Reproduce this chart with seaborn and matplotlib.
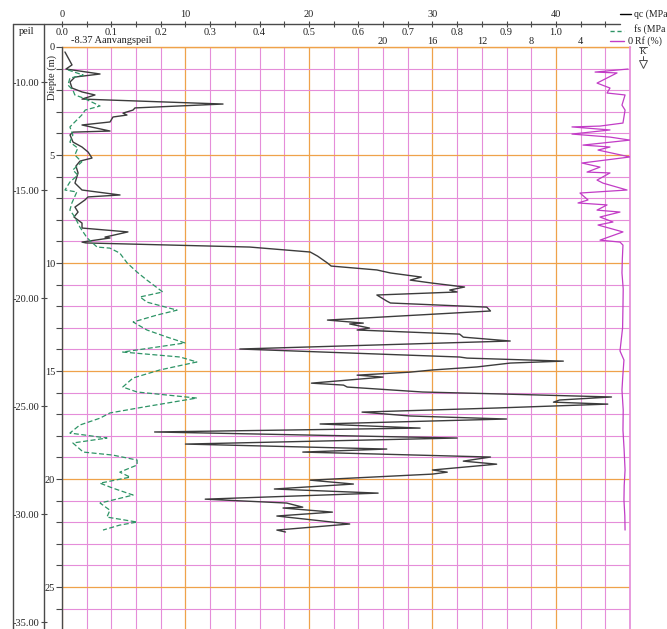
import numpy as np
import pandas as pd
import matplotlib
matplotlib.use("Agg")
import matplotlib.pyplot as plt
from matplotlib.lines import Line2D
import seaborn as sns

# Cone resistance qc (MPa) against depth below start level (m)
qc_depth = [0.23, 0.83, 1.02, 1.25, 1.39, 1.62, 1.90, 2.08, 2.22, 2.41,
            2.64, 2.82, 2.92, 3.06, 3.15, 3.24, 3.47, 3.61, 3.89, 3.94,
            4.07, 4.40, 4.63, 4.86, 5.14, 5.28, 5.51, 5.83, 6.30, 6.62,
            6.85, 6.94, 7.08, 7.41, 7.64, 7.87, 8.15, 8.38, 8.56, 8.80,
            8.84, 9.03, 9.07, 9.26, 9.49, 9.68, 10.00, 10.14, 10.32, 10.46,
            10.65, 10.79, 10.93, 11.11, 11.25, 11.34, 11.48, 11.76, 11.85, 12.04,
            12.22, 12.64, 12.78, 12.82, 13.01, 13.10, 13.29, 13.43, 13.61, 13.98,
            14.35, 14.40, 14.54, 14.63, 14.81, 14.95, 15.05, 15.19, 15.28, 15.56,
            15.65, 15.74, 15.97, 16.06, 16.20, 16.34, 16.44, 16.53, 16.71, 16.90,
            17.08, 17.22, 17.45, 17.64, 17.82, 18.10, 18.38, 18.61, 18.75, 18.98,
            19.17, 19.31, 19.58, 19.68, 19.77, 20.05, 20.23, 20.46, 20.65, 20.93,
            21.11, 21.30, 21.34, 21.53, 21.71, 22.08, 22.36, 22.45]
qc_value = [0.24, 0.81, 0.32, 3.08, 1.05, 0.65, 0.81, 1.62, 2.67, 1.62,
            13.04, 5.91, 5.75, 4.94, 5.26, 4.13, 3.89, 1.62, 3.89, 0.89,
            0.65, 0.89, 1.62, 2.11, 2.43, 1.46, 1.13, 1.30, 1.05, 1.62,
            4.70, 2.11, 1.86, 1.05, 1.30, 0.97, 1.62, 1.62, 5.34, 3.48,
            3.89, 1.62, 1.94, 15.20, 20.10, 20.70, 21.50, 21.80, 25.50, 26.60,
            29.10, 28.20, 30.00, 32.60, 31.40, 32.00, 25.50, 26.30, 26.60, 34.40,
            34.70, 21.50, 24.40, 23.30, 24.90, 23.90, 32.20, 32.50, 36.30, 14.40,
            32.20, 32.80, 40.60, 36.30, 33.60, 30.00, 28.20, 23.90, 26.00, 20.20,
            22.80, 23.10, 29.20, 35.50, 44.50, 40.30, 39.80, 44.20, 35.20, 24.30,
            28.20, 36.00, 20.90, 29.00, 7.50, 32.00, 10.00, 26.30, 19.50, 34.70,
            32.50, 35.20, 30.00, 31.20, 30.00, 20.10, 23.60, 17.20, 25.60, 11.60,
            18.20, 19.50, 17.90, 21.90, 17.40, 23.30, 17.40, 18.10]

# Sleeve friction fs (MPa)
fs_depth = [1.06, 1.30, 1.44, 1.76, 1.99, 2.22, 2.36, 2.73, 2.92, 3.15,
            3.47, 3.70, 4.07, 4.40, 4.68, 5.00, 5.32, 5.69, 5.93, 6.25,
            6.62, 6.71, 7.22, 7.55, 7.87, 8.33, 8.84, 9.26, 9.31, 9.54,
            10.00, 10.42, 10.79, 11.34, 11.57, 11.81, 12.18, 12.41, 12.73, 13.10,
            13.43, 13.70, 14.12, 14.35, 14.58, 14.95, 15.32, 15.74, 15.97, 16.25,
            16.67, 16.94, 17.18, 17.50, 17.87, 18.10, 18.33, 18.75, 18.89, 19.12,
            19.35, 19.68, 19.91, 20.19, 20.42, 20.74, 20.97, 21.11, 21.44, 21.76,
            21.99, 22.13, 22.36]
fs_value = [0.012, 0.043, 0.016, 0.012, 0.022, 0.026, 0.043, 0.077, 0.047, 0.040,
            0.026, 0.016, 0.022, 0.016, 0.032, 0.026, 0.040, 0.022, 0.032, 0.016,
            0.006, 0.030, 0.020, 0.016, 0.026, 0.036, 0.051, 0.071, 0.097, 0.117,
            0.132, 0.152, 0.172, 0.204, 0.158, 0.172, 0.233, 0.192, 0.144, 0.172,
            0.213, 0.249, 0.123, 0.239, 0.273, 0.198, 0.144, 0.123, 0.152, 0.273,
            0.164, 0.097, 0.077, 0.036, 0.016, 0.091, 0.022, 0.043, 0.103, 0.152,
            0.152, 0.117, 0.138, 0.077, 0.103, 0.144, 0.103, 0.077, 0.097, 0.091,
            0.152, 0.117, 0.083]

# Friction ratio Rf (%)
rf_depth = [1.02, 1.16, 1.20, 1.67, 1.90, 2.13, 2.22, 2.69, 2.92, 3.52,
            3.66, 3.70, 3.84, 4.03, 4.17, 4.31, 4.54, 4.63, 4.77, 5.09,
            5.37, 5.56, 5.79, 5.83, 6.16, 6.30, 6.62, 6.76, 7.08, 7.22,
            7.31, 7.55, 7.64, 7.87, 8.10, 8.24, 8.56, 8.94, 9.03, 9.17,
            9.80, 10.46, 11.20, 12.04, 13.00, 14.07, 14.49, 15.20, 15.88, 16.80,
            17.73, 18.60, 19.58, 20.30, 20.97, 21.70, 22.36]
rf_value = [0.16, 2.83, 1.05, 2.67, 1.62, 1.86, 0.40, 0.65, 0.40, 0.57,
            2.43, 4.70, 1.62, 4.70, 1.62, 0.00, 3.81, 1.62, 2.59, 0.00,
            3.89, 2.43, 3.48, 1.62, 2.67, 2.19, 0.24, 4.05, 3.40, 4.21,
            1.86, 2.67, 0.81, 2.43, 1.38, 2.59, 0.57, 2.43, 0.81, 0.57,
            0.62, 0.65, 0.55, 0.57, 0.60, 0.81, 0.49, 0.58, 0.65, 0.55,
            0.57, 0.48, 0.40, 0.47, 0.49, 0.42, 0.40]

start_level = -8.37
qc_labels = [0, 10, 20, 30, 40]
fs_labels = [0.0, 0.1, 0.2, 0.3, 0.4, 0.5, 0.6, 0.7, 0.8, 0.9, 1.0]
rf_labels = [20, 16, 12, 8, 4, 0]
depth_labels = [0, 5, 10, 15, 20, 25]
level_labels = [-10, -15, -20, -25, -30, -35]

sns.set_theme(style="white")
plt.rcParams["font.family"] = ["Liberation Serif", "DejaVu Serif"]

PINK = "#E58DD9"
ORANGE = "#EFA24A"
FRAME = "#4A4A4A"
TEXT = "#222222"
QC_COLOR = "#3C3C3C"
FS_COLOR = "#2E9466"
RF_COLOR = "#C23CC6"
FONT = 7.5

W, H = 667, 629
fig = plt.figure(figsize=(W / 100, H / 100), dpi=100)


def fx(px):
    return px / W


def fy(py):
    return 1 - py / H


QC_MAX = 46.0
DEPTH_MAX = 26.94

ax = fig.add_axes([fx(62), 0, fx(630) - fx(62), fy(47)])
ax.set_xlim(0, QC_MAX)
ax.set_ylim(DEPTH_MAX, 0)
ax.set_facecolor("white")

sns.lineplot(x=qc_value, y=qc_depth, sort=False, estimator=None, orient="y",
             ax=ax, color=QC_COLOR, lw=1.0)
ax.set_xlabel("")
ax.set_ylabel("")

# sleeve friction scale
ax_fs = ax.twiny()
ax_fs.set_xlim(0, QC_MAX / 40)
sns.lineplot(x=fs_value, y=fs_depth, sort=False, estimator=None, orient="y",
             ax=ax_fs, color=FS_COLOR, lw=0.9, linestyle=(0, (4, 2)))
ax_fs.set_xlabel("")
ax_fs.set_xticks(fs_labels)
ax_fs.set_xticklabels([f"{v:.1f}" for v in fs_labels])
ax_fs.tick_params(axis="x", length=0, pad=7, labelsize=FONT, labelcolor=TEXT)
for s in ax_fs.spines.values():
    s.set_visible(False)
ax_fs.grid(False)

# friction ratio scale, running right to left
ax_rf = ax.twiny()
ax_rf.set_xlim(QC_MAX, 0)
sns.lineplot(x=rf_value, y=rf_depth, sort=False, estimator=None, orient="y",
             ax=ax_rf, color=RF_COLOR, lw=0.9)
ax_rf.set_xlabel("")
ax_rf.set_xticks(rf_labels)
ax_rf.set_xticklabels([str(v) for v in rf_labels])
ax_rf.tick_params(axis="x", length=0, pad=0.5, labelsize=FONT, labelcolor=TEXT)
for s in ax_rf.spines.values():
    s.set_visible(False)
ax_rf.grid(False)
for a in (ax_fs, ax_rf):
    a.set_ylim(DEPTH_MAX, 0)

# grid: orange every 10 MPa / 5 m, pink every 2 MPa / 1 m
ax.set_xticks(qc_labels)
ax.set_xticks(np.arange(0, 45, 2), minor=True)
ax.set_xticklabels([str(v) for v in qc_labels])
ax.set_yticks(depth_labels)
ax.set_yticks(np.arange(0, 27, 1), minor=True)
ax.set_yticklabels([str(v) for v in depth_labels])
ax.grid(which="minor", color=PINK, lw=0.8)
ax.grid(which="major", color=ORANGE, lw=0.9)
ax.set_axisbelow(True)
ax.axhline(0, color=ORANGE, lw=1.0, clip_on=False, zorder=1)

# qc scale on the raised top line
ax.xaxis.set_ticks_position("top")
ax.xaxis.set_label_position("top")
ax.spines["top"].set_position(("outward", 23 * 0.72))
ax.spines["top"].set_color("none")
ax.spines["bottom"].set_visible(False)
ax.spines["right"].set_color(PINK)
ax.spines["left"].set_color(FRAME)
ax.spines["left"].set_linewidth(1.0)
ax.tick_params(axis="x", which="both", direction="inout", length=5, width=0.8,
               color=FRAME, labelsize=FONT, pad=1, labelcolor=TEXT,
               top=True, labeltop=True, bottom=False, labelbottom=False)
ax.tick_params(axis="y", which="both", direction="out", length=4, width=0.8,
               color=FRAME, labelsize=FONT, pad=1, labelcolor=TEXT, left=True)

# level scale (m relative to datum)
ax_lv = fig.add_axes([fx(44), 0, 1e-4, fy(47)])
ax_lv.set_ylim(start_level - DEPTH_MAX, start_level)
ax_lv.set_yticks(level_labels)
ax_lv.set_yticklabels([f"{v:.2f}" for v in level_labels])
ax_lv.set_xticks([])
ax_lv.patch.set_visible(False)
for s in ax_lv.spines.values():
    s.set_visible(False)
ax_lv.tick_params(axis="y", direction="inout", length=5, width=0.8, color=FRAME,
                  labelsize=FONT, pad=1, labelcolor=TEXT, left=True)

# frame lines
for xs, ys in [([13, 13], [24, H]), ([44, 44], [24, H]), ([13, 620], [24, 24])]:
    fig.add_artist(Line2D([fx(v) for v in xs], [fy(v) for v in ys],
                          color=FRAME, lw=1.0))

fig.text(fx(27), fy(31), "peil", ha="center", va="center", size=FONT, color=TEXT)
fig.text(fx(71), fy(40.5), "-8.37 Aanvangspeil", ha="left", va="center", size=FONT,
         color=TEXT)
fig.text(fx(52), fy(77), "Diepte (m)", rotation=90, ha="center", va="center",
         size=FONT, color=TEXT)

# legend entries
fig.add_artist(Line2D([fx(620), fx(631)], [fy(14), fy(14)], color="black", lw=1.0))
fig.text(fx(634), fy(14), "qc (MPa", ha="left", va="center", size=7, color=TEXT)
fig.add_artist(Line2D([fx(610), fx(624)], [fy(31), fy(31)], color=FS_COLOR, lw=1.0,
                      linestyle=(0, (3, 2))))
fig.text(fx(634), fy(29), "fs (MPa", ha="left", va="center", size=7, color=TEXT)
fig.add_artist(Line2D([fx(610), fx(624)], [fy(41), fy(41)], color=RF_COLOR, lw=1.0))
fig.text(fx(635), fy(41), "Rf (%)", ha="left", va="center", size=7, color=TEXT)

# groundwater marker
fig.add_artist(Line2D([fx(639), fx(647)], [fy(47), fy(47)], color=FRAME, lw=0.7))
fig.text(fx(643), fy(52), "K", ha="center", va="center", size=6.5, color=TEXT)
fig.add_artist(Line2D([fx(643), fx(643)], [fy(56), fy(61)], color=FRAME, lw=0.7))
fig.add_artist(Line2D([fx(643)], [fy(64)], marker="v", markersize=6,
                      markerfacecolor="white", markeredgecolor=FRAME, mew=0.7,
                      linestyle="none"))

fig.savefig("out.png", dpi=100, facecolor="white")
